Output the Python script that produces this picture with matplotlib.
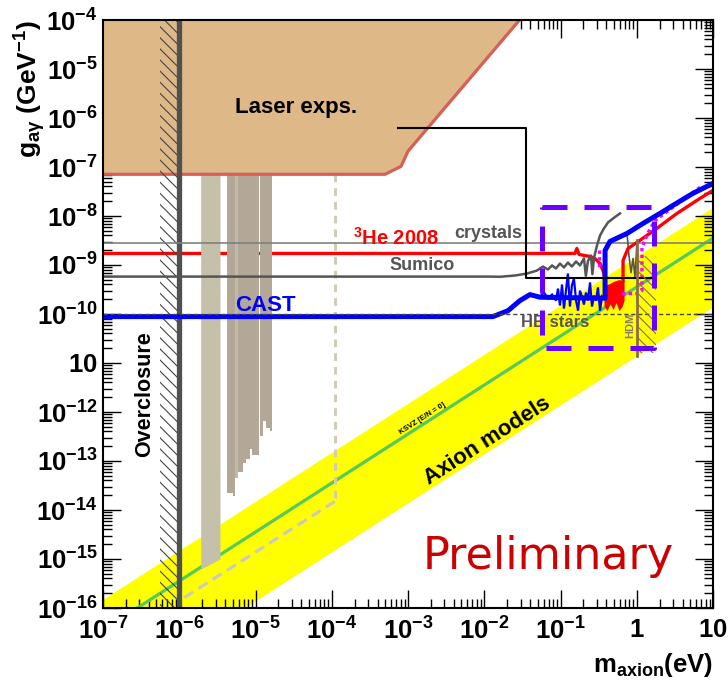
#!/usr/bin/env python3
import matplotlib
matplotlib.use("Agg")
import matplotlib.pyplot as plt
import numpy as np
from matplotlib.ticker import LogLocator, NullFormatter

plt.rcParams.update(
    {
        "font.family": "Liberation Sans",
        "font.weight": "bold",
        "mathtext.fontset": "custom",
        "mathtext.rm": "Liberation Sans:bold",
        "mathtext.it": "Liberation Sans:bold",
        "mathtext.bf": "Liberation Sans:bold",
        "mathtext.sf": "Liberation Sans:bold",
        "hatch.linewidth": 0.8,
    }
)

# --- ejes ---
X_TICKS = [1e-7, 1e-6, 1e-5, 1e-4, 1e-3, 1e-2, 1e-1, 1, 10]
X_LABELS = [r"$10^{-7}$", r"$10^{-6}$", r"$10^{-5}$", r"$10^{-4}$", r"$10^{-3}$",
            r"$10^{-2}$", r"$10^{-1}$", r"$1$", r"$10$"]
Y_TICKS = [1e-16, 1e-15, 1e-14, 1e-13, 1e-12, 1e-11, 1e-10, 1e-9, 1e-8,
           1e-7, 1e-6, 1e-5, 1e-4]
Y_LABELS = [r"$10^{-16}$", r"$10^{-15}$", r"$10^{-14}$", r"$10^{-13}$", r"$10^{-12}$",
            r"$10$", r"$10^{-10}$", r"$10^{-9}$", r"$10^{-8}$", r"$10^{-7}$",
            r"$10^{-6}$", r"$10^{-5}$", r"$10^{-4}$"]

# --- modelos de axión ---
BAND_M = [1e-7, 10.0]
BAND_HI = [1.51e-16, 1.51e-8]
BAND_LO = [1.41e-18, 1.41e-10]
KSVZ_M = [1e-7, 10.0]
KSVZ_G = [3.55e-17, 3.55e-9]

# --- experimentos láser ---
LASER_M = [1e-7, 5.0e-4, 8.1e-4, 1.0e-3, 2.9e-2]
LASER_G = [7.1e-8, 7.1e-8, 1.03e-7, 2.1e-7, 1e-4]

# --- haloscopios (bandas) ---
BAND1_M = [1.91e-6, 3.42e-6]
BAND1_BOT = [6.2e-16, 1.0e-15]
ADMX_LO = [4.22e-6, 5.07e-6, 5.38e-6, 5.89e-6, 6.85e-6, 7.50e-6, 8.47e-6, 8.99e-6,
           1.15e-5, 1.25e-5, 1.37e-5, 1.55e-5]
ADMX_HI = [5.07e-6, 5.38e-6, 5.89e-6, 6.85e-6, 7.50e-6, 8.47e-6, 8.99e-6, 1.11e-5,
           1.25e-5, 1.37e-5, 1.55e-5, 1.64e-5]
ADMX_BOT = [2.23e-14, 1.93e-14, 4.5e-14, 5.98e-14, 9.1e-14, 1.10e-13, 1.77e-13,
            1.33e-13, 3.26e-13, 6.6e-13, 4.75e-13, 4.1e-13]
BAND_TOP = 7.1e-8

# --- línea discontinua (microondas) ---
DASH_M = [1.1e-4, 1.1e-4]
DASH_G = [7.1e-8, 1.5e-14]
DIAG_M = [1.1e-4, 1.0e-6]
DIAG_G = [1.5e-14, 1.4e-16]

# --- límites horizontales ---
OVERCLOSURE_M = [5.6e-7, 1.0e-6]
CRYSTALS_G = 2.75e-9
HB_G = 1.0e-10

SUMICO_M = [1e-7, 1.19e-2, 1.61e-2, 2.53e-2, 3.64e-2, 4.9e-2, 0.0589, 0.0685, 0.0775,
            0.0873, 0.0984, 0.111, 0.125, 0.141, 0.160, 0.180, 0.203, 0.215, 0.229,
            0.251, 0.262, 0.275, 0.301, 0.330, 0.372, 0.420, 0.489, 0.603]
SUMICO_G = [5.8e-10, 5.8e-10, 5.75e-10, 6.1e-10, 6.7e-10, 7.7e-10, 9.3e-10, 8.1e-10,
            9.8e-10, 8.5e-10, 1.07e-9, 8.9e-10, 1.12e-9, 9.3e-10, 1.18e-9, 9.8e-10,
            1.36e-9, 6.0e-10, 1.2e-9, 1.56e-9, 6.5e-10, 1.4e-9, 2.5e-9, 4.0e-9,
            5.6e-9, 7.4e-9, 8.9e-9, 1.13e-8]
SUMICO2_M = [0.745, 0.791, 0.841, 0.893, 0.948, 1.007, 1.038]
SUMICO2_G = [4.4e-9, 1.56e-9, 7.0e-10, 1.36e-9, 5.8e-10, 2.9e-9, 8.5e-10]

HE3_M = [1e-7, 0.155, 0.164, 0.175, 0.209, 0.244, 0.283, 0.330, 0.361, 0.384]
HE3_G = [1.72e-9, 1.72e-9, 2.17e-9, 1.64e-9, 1.56e-9, 1.49e-9, 1.36e-9, 1.07e-9,
         7.7e-10, 5.3e-10]
HE3B_M = [0.372, 0.407, 0.446, 0.489, 0.535, 0.585, 0.641, 0.681]
HE3B_TOP = [3.3e-10, 4.0e-10, 4.2e-10, 4.6e-10, 4.8e-10, 5.05e-10, 4.8e-10, 4.8e-10]
HE3B_BOT = [1.49e-10, 1.17e-10, 1.63e-10, 1.23e-10, 1.71e-10, 1.17e-10, 1.42e-10,
            1.88e-10]
HE3T_M = [0.661, 0.661, 0.768, 1.007, 1.84, 3.37, 6.76, 10.0]
HE3T_G = [4.8e-10, 1.24e-9, 2.17e-9, 2.9e-9, 5.6e-9, 1.13e-8, 2.29e-8, 3.34e-8]

# CAST: curva base gruesa + ruido fino en la zona 3He
CAST_M = [1e-7, 1.30e-2, 2.05e-2, 2.94e-2, 0.0398, 0.0538, 0.384, 0.384, 0.446, 0.745,
          1.21, 2.02, 2.99, 5.47, 10.0]
CAST_G = [8.85e-11, 8.85e-11, 1.17e-10, 1.88e-10, 2.49e-10, 2.2e-10, 2.1e-10, 1.98e-9,
          3.03e-9, 4.4e-9, 7.06e-9, 1.13e-8, 1.65e-8, 2.9e-8, 4.64e-8]
CAST_NOISE_M = [0.0538, 0.0608, 0.0685, 0.0775, 0.0873, 0.0927, 0.0984, 0.1047, 0.111,
                0.118, 0.125, 0.133, 0.141, 0.150, 0.160, 0.170, 0.180, 0.191, 0.203,
                0.216, 0.229, 0.244, 0.259, 0.275, 0.292, 0.310, 0.330, 0.350, 0.372,
                0.384]
CAST_NOISE_G = [2.27e-10, 2.74e-10, 2.07e-10, 2.49e-10, 1.88e-10, 3.3e-10, 1.49e-10,
                4.0e-10, 1.29e-10, 3.0e-10, 6.7e-10, 1.42e-10, 3.8e-10, 5.3e-10,
                1.88e-10, 1.17e-10, 3.0e-10, 2.27e-10, 1.56e-10, 2.74e-10, 1.88e-10,
                4.4e-10, 1.42e-10, 2.38e-10, 1.88e-10, 3.5e-10, 1.17e-10, 2.27e-10,
                2.07e-10, 2.07e-10]

TOKYO_A_M = [0.32, 0.32]
TOKYO_A_G = [1.98e-9, 8.1e-10]
TOKYO_B_M = [0.641, 1.007, 1.17, 1.17, 1.41, 1.73, 6.76]
TOKYO_B_G = [2.61e-10, 2.61e-10, 3.0e-10, 2.28e-9, 4.6e-9, 8.1e-9, 3.85e-8]

BLACK_M = [7.4e-4, 3.53e-2, 3.53e-2, 1.68]
BLACK_G = [6.2e-7, 6.2e-7, 5.5e-10, 5.5e-10]

RECT_M = [0.0571, 1.68]
RECT_G = [2.06e-11, 1.5e-8]

HDM_M = 1.0
HDM_G = [1.41e-11, 3.2e-9]
HDM_HATCH_M = [1.0, 1.8]
HDM_HATCH_G = [1.6e-11, 1.5e-9]


def main():
    fig = plt.figure(figsize=(7.28, 6.83), dpi=100)
    ax = fig.add_axes([103 / 728, 1 - 608 / 683, 610 / 728, 588 / 683])
    ax.set_xscale("log")
    ax.set_yscale("log")
    ax.set_xlim(1e-7, 10)
    ax.set_ylim(1e-16, 1e-4)

    # banda de modelos y KSVZ
    ax.fill_between(BAND_M, BAND_LO, BAND_HI, color="#FFFF00", lw=0, zorder=1)
    ax.plot(KSVZ_M, KSVZ_G, color="#55C95A", lw=2.3, zorder=2)

    # 3He 2008 (debajo de las bandas)
    ax.plot(HE3_M, HE3_G, color="#FF0000", lw=2.4, zorder=3)

    # haloscopios
    ax.fill_between(BAND1_M, BAND1_BOT, BAND_TOP, color="#C4C0AA", lw=0, zorder=4)
    for i, (lo, hi, bot) in enumerate(zip(ADMX_LO, ADMX_HI, ADMX_BOT)):
        color = "#C2BAA8" if i == 2 else "#B3A898"
        ax.fill_between([lo, hi], [bot, bot], BAND_TOP, color=color, lw=0, zorder=4)

    ax.plot(DASH_M, DASH_G, color="#D3CCB3", lw=2.2, ls=(0, (2.5, 2)), zorder=4.5)
    ax.plot(DIAG_M, DIAG_G, color="#C8C8C8", lw=2.2, ls=(0, (3.5, 2)), zorder=4.5)

    # láser
    ax.fill(LASER_M + [1e-7], LASER_G + [1e-4], color="#DEB887", lw=0, zorder=5)
    ax.plot(LASER_M, LASER_G, color="#D65F57", lw=2.3, zorder=5.5)

    # overclosure
    ax.fill_between(OVERCLOSURE_M, 1e-16, 1e-4, facecolor="none", edgecolor="#444444",
                    hatch="\\\\\\", lw=0, zorder=6)
    ax.axvline(OVERCLOSURE_M[1], color="#505050", lw=3.8, zorder=6.5)

    # líneas horizontales
    ax.axhline(CRYSTALS_G, color="#808080", lw=1.2, zorder=7)
    ax.plot(SUMICO_M, SUMICO_G, color="#555555", lw=1.8, zorder=7)
    ax.plot(SUMICO2_M, SUMICO2_G, color="#555555", lw=1.2, zorder=7)

    ax.fill_between(HE3B_M, HE3B_BOT, HE3B_TOP, color="#FF0000", lw=0, zorder=7.5)
    ax.plot(HE3T_M, HE3T_G, color="#FF0000", lw=2.4, zorder=7.5)

    ax.plot(TOKYO_A_M, TOKYO_A_G, color="#FF00FF", lw=2.4, ls=(0, (1, 1)), zorder=7.6)
    ax.plot(TOKYO_B_M, TOKYO_B_G, color="#FF00FF", lw=2.4, ls=(0, (1, 1)), zorder=7.6)

    ax.plot(CAST_M, CAST_G, color="#0000FF", lw=3.6, zorder=8,
            solid_joinstyle="round")
    ax.plot(CAST_NOISE_M, CAST_NOISE_G, color="#0000FF", lw=1.6, zorder=8,
            solid_joinstyle="miter")

    ax.axhline(HB_G, color="#444444", lw=1.0, ls=(0, (3, 2)), zorder=8.5)
    ax.plot(BLACK_M, BLACK_G, color="black", lw=1.5, zorder=8.5)

    # HDM
    ax.fill_between(HDM_HATCH_M, HDM_HATCH_G[0], HDM_HATCH_G[1], facecolor="none",
                    edgecolor="#8C6E46", hatch="\\\\\\", lw=0, zorder=8.6)
    ax.plot([HDM_M, HDM_M], HDM_G, color="#8C6E46", lw=2.0, zorder=8.7)

    # textos (HB stars debajo del rectángulo)
    ax.text(0.0847, 6.7e-11, "HB stars", color="#555555", fontsize=12,
            ha="center", va="center", zorder=8.8)

    rx = [RECT_M[0], RECT_M[1], RECT_M[1], RECT_M[0], RECT_M[0]]
    ry = [RECT_G[1], RECT_G[1], RECT_G[0], RECT_G[0], RECT_G[1]]
    ax.plot(rx, ry, color="#6A00FF", lw=3.6, ls=(0, (5, 3.4)), zorder=9)

    ax.text(3.4e-5, 1.6e-6, "Laser exps.", fontsize=16, ha="center", va="center",
            zorder=10)
    ax.text(7.0e-4, 3.5e-9, r"$^{3}$He 2008", color="#FF0000", fontsize=14.5,
            ha="center", va="center", zorder=10)
    ax.text(1.12e-2, 4.4e-9, "crystals", color="#555555", fontsize=13,
            ha="center", va="center", zorder=10)
    ax.text(1.53e-3, 9.8e-10, "Sumico", color="#555555", fontsize=13,
            ha="center", va="center", zorder=10)
    ax.text(1.33e-5, 1.49e-10, "CAST", color="#0000FF", fontsize=16,
            ha="center", va="center", zorder=10)
    ax.text(3.5e-7, 2.35e-12, "Overclosure", fontsize=15.5, rotation=90,
            ha="center", va="center", zorder=10)
    ax.text(1.09e-2, 2.6e-13, "Axion models", fontsize=16, rotation=32.7,
            ha="center", va="center", rotation_mode="anchor", zorder=10)
    ax.text(1.57e-3, 7.3e-13, "KSVZ [E/N = 0]", fontsize=5.5, rotation=32.7,
            ha="center", va="center", rotation_mode="anchor", zorder=10)
    ax.text(0.815, 5.8e-11, "HDM", color="#8C7A5B", fontsize=8, rotation=90,
            ha="center", va="center", zorder=10)
    ax.text(0.0686, 1.15e-15, "Preliminary", color="#CC0000", fontsize=32,
            fontfamily="DejaVu Sans", fontweight="normal",
            ha="center", va="center", zorder=10)

    # ticks estilo ROOT
    ax.set_xticks(X_TICKS, X_LABELS)
    ax.set_yticks(Y_TICKS, Y_LABELS)
    ax.xaxis.set_minor_locator(LogLocator(base=10, subs=np.arange(2, 10), numticks=100))
    ax.yaxis.set_minor_locator(LogLocator(base=10, subs=np.arange(2, 10), numticks=100))
    ax.xaxis.set_minor_formatter(NullFormatter())
    ax.yaxis.set_minor_formatter(NullFormatter())
    ax.tick_params(which="both", direction="in", top=True, right=True, width=1.0,
                   labelsize=18.5)
    ax.tick_params(which="major", length=13)
    ax.tick_params(which="minor", length=6.5)
    ax.tick_params(axis="x", which="major", pad=7)
    ax.tick_params(axis="y", which="major", pad=4)
    for sp in ax.spines.values():
        sp.set_linewidth(1.5)
        sp.set_zorder(20)

    fig.text(30 / 728, 1 - 20 / 683, r"g$_{a\gamma}$ (GeV$^{-1}$)", rotation=90,
             fontsize=19, ha="center", va="top")
    fig.text(713 / 728, 1 - 665 / 683, r"m$_{axion}$(eV)", fontsize=18.5,
             ha="right", va="center")

    fig.savefig("out.png", dpi=100)
    plt.close(fig)


if __name__ == "__main__":
    main()
